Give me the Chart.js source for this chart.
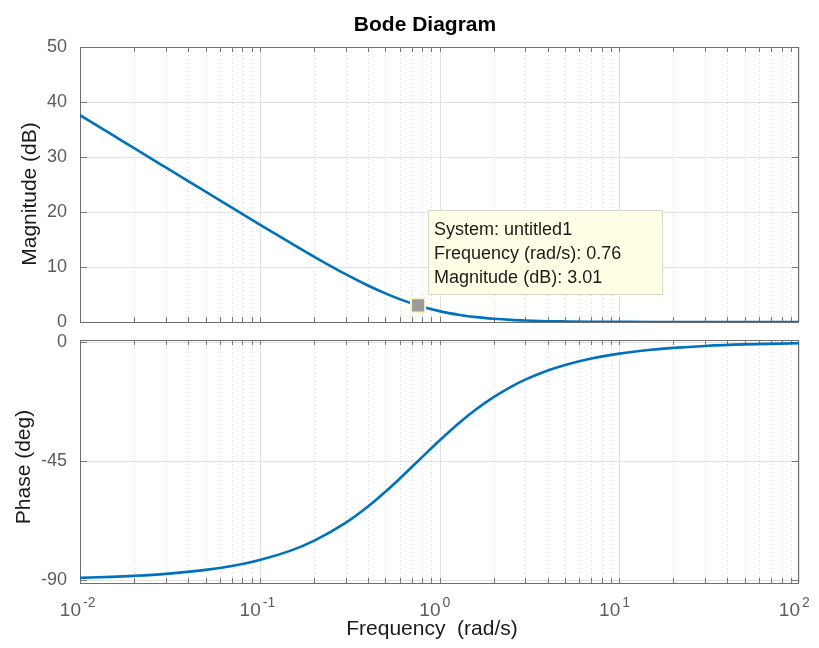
<!DOCTYPE html>
<html>
<head>
<meta charset="utf-8">
<title>Bode Diagram</title>
<script src="https://cdn.jsdelivr.net/npm/chart.js@4.4.1/dist/chart.umd.min.js"></script>
<style>
  html, body { margin: 0; padding: 0; background: #fff; }
  #wrap { position: relative; width: 819px; height: 648px; }
  canvas { position: absolute; left: 0; }
  #magCanvas { top: 0; }
  #phaseCanvas { top: 325px; }
</style>
</head>
<body>
<div id="wrap">
  <canvas id="magCanvas" width="819" height="334"></canvas>
  <canvas id="phaseCanvas" width="819" height="323"></canvas>
</div>
<script>
// values
const freq     = [0.01, 0.015, 0.02, 0.03, 0.05, 0.07, 0.1, 0.15, 0.2, 0.3, 0.4, 0.5, 0.6, 0.76, 1, 1.3, 1.6, 2, 2.5, 3, 4, 5, 7, 10, 15, 20, 30, 50, 100];
const magDb    = [37.6, 34.1, 31.6, 28.1, 23.7, 20.8, 17.7, 14.3, 11.9, 8.7, 6.64, 5.2, 4.16, 3.01, 1.98, 1.28, 0.88, 0.59, 0.38, 0.27, 0.15, 0.1, 0.05, 0.03, 0.01, 0.01, 0, 0, 0];
const phaseDeg = [-89.25, -88.87, -88.49, -87.74, -86.24, -84.74, -82.5, -78.84, -75.26, -68.46, -62.24, -56.66, -51.71, -45, -37.23, -30.31, -25.41, -20.81, -16.91, -14.22, -10.76, -8.64, -6.2, -4.35, -2.9, -2.18, -1.45, -0.87, -0.44];

const tipFreq = 0.76;
const tipMag = 3.01;
const tipLines = ['System: untitled1', 'Frequency (rad/s): 0.76', 'Magnitude (dB): 3.01'];

const xDecades = [0.01, 0.1, 1, 10, 100];
const xExponents = ['-2', '-1', '0', '1', '2'];
const magTicks = [0, 10, 20, 30, 40, 50];
const phaseTicks = [-90, -45, 0];

const FONT = "'Liberation Sans', Arial, Helvetica, sans-serif";
const BLUE = '#0072BD';

const toPts = (ys) => freq.map((f, i) => ({ x: f, y: ys[i] }));

// grid, box and inner tick marks, MATLAB style
const framePlugin = {
  id: 'frame',
  beforeDatasetsDraw(chart) {
    const { ctx, chartArea: a, scales: { x, y } } = chart;
    ctx.save();
    ctx.lineWidth = 1;

    // minor dotted verticals
    ctx.strokeStyle = '#d4d4d4';
    ctx.setLineDash([1, 3]);
    xDecades.slice(0, -1).forEach(d => {
      for (let m = 2; m <= 9; m++) {
        const px = Math.round(x.getPixelForValue(d * m)) + 0.5;
        ctx.beginPath(); ctx.moveTo(px, a.top); ctx.lineTo(px, a.bottom); ctx.stroke();
      }
    });

    // major grid
    ctx.setLineDash([]);
    ctx.strokeStyle = '#e1e1e1';
    xDecades.forEach(d => {
      const px = Math.round(x.getPixelForValue(d)) + 0.5;
      ctx.beginPath(); ctx.moveTo(px, a.top); ctx.lineTo(px, a.bottom); ctx.stroke();
    });
    y.ticks.forEach(t => {
      const py = Math.round(y.getPixelForValue(t.value)) + 0.5;
      ctx.beginPath(); ctx.moveTo(a.left, py); ctx.lineTo(a.right, py); ctx.stroke();
    });

    // inner tick marks
    ctx.strokeStyle = '#777';
    xDecades.slice(0, -1).forEach(d => {
      for (let m = 1; m <= 9; m++) {
        const px = Math.round(x.getPixelForValue(d * m)) + 0.5;
        ctx.beginPath();
        ctx.moveTo(px, a.top); ctx.lineTo(px, a.top + 5);
        ctx.moveTo(px, a.bottom); ctx.lineTo(px, a.bottom - 5);
        ctx.stroke();
      }
    });
    y.ticks.forEach(t => {
      const py = Math.round(y.getPixelForValue(t.value)) + 0.5;
      ctx.beginPath();
      ctx.moveTo(a.left, py); ctx.lineTo(a.left + 7, py);
      ctx.moveTo(a.right, py); ctx.lineTo(a.right - 7, py);
      ctx.stroke();
    });

    // box
    ctx.strokeStyle = '#6e6e6e';
    ctx.strokeRect(a.left + 0.5, a.top + 0.5, a.right - a.left - 1, a.bottom - a.top);
    ctx.restore();
  }
};

const magTextPlugin = {
  id: 'magText',
  afterDraw(chart) {
    const { ctx } = chart;
    ctx.save();
    ctx.fillStyle = '#000';
    ctx.font = 'bold 21px ' + FONT;
    ctx.textAlign = 'center';
    ctx.textBaseline = 'alphabetic';
    ctx.fillText('Bode Diagram', 425, 31);

    ctx.fillStyle = '#1a1a1a';
    ctx.font = '21px ' + FONT;
    ctx.translate(36, 194);
    ctx.rotate(-Math.PI / 2);
    ctx.fillText('Magnitude (dB)', 0, 0);
    ctx.restore();

    // data tip
    const el = chart.getDatasetMeta(0).data[0];
    if (!el) return;
    const bx = el.x + 10, by = el.y - 95.5;
    ctx.save();
    ctx.fillStyle = '#ffffe6';
    ctx.strokeStyle = '#d8d8c8';
    ctx.lineWidth = 1;
    ctx.fillRect(bx, by, 235, 85);
    ctx.strokeRect(bx + 0.5, by + 0.5, 234, 84);
    ctx.fillStyle = '#1a1a1a';
    ctx.font = '18px ' + FONT;
    ctx.textAlign = 'left';
    ctx.textBaseline = 'alphabetic';
    tipLines.forEach((s, i) => ctx.fillText(s, bx + 6, el.y - 70.5 + i * 24.2));
    ctx.restore();
  }
};

const phaseTextPlugin = {
  id: 'phaseText',
  afterDraw(chart) {
    const { ctx, scales: { x } } = chart;
    ctx.save();
    ctx.fillStyle = '#5c5c5c';
    ctx.textBaseline = 'alphabetic';
    xDecades.forEach((d, i) => {
      const px = x.getPixelForValue(d);
      ctx.font = '19px ' + FONT;
      ctx.textAlign = 'right';
      ctx.fillText('10', px + 1, 291);
      ctx.font = '14px ' + FONT;
      ctx.textAlign = 'left';
      ctx.fillText(xExponents[i], px + 3, 282);
    });

    ctx.fillStyle = '#1a1a1a';
    ctx.font = '21px ' + FONT;
    ctx.textAlign = 'center';
    ctx.fillText('Frequency  (rad/s)', 432, 310);

    ctx.translate(30, 467 - 325);
    ctx.rotate(-Math.PI / 2);
    ctx.fillText('Phase (deg)', 0, 0);
    ctx.restore();
  }
};

function xScale(height) {
  return {
    type: 'logarithmic',
    min: 0.01,
    max: 100,
    grid: { display: false },
    border: { display: false },
    ticks: { display: false },
    afterFit: s => { s.height = height; s.paddingLeft = 0; s.paddingRight = 0; }
  };
}

function yScale(min, max, tickVals) {
  return {
    type: 'linear',
    min: min,
    max: max,
    grid: { display: false, drawTicks: false },
    border: { display: false },
    ticks: { color: '#5c5c5c', padding: 13, font: { family: FONT, size: 18 } },
    afterBuildTicks: s => { s.ticks = tickVals.map(v => ({ value: v })); },
    afterFit: s => { s.width = 80; s.paddingTop = 0; s.paddingBottom = 0; }
  };
}

const common = {
  responsive: false,
  animation: false,
  events: [],
  plugins: { legend: { display: false }, tooltip: { enabled: false } }
};

new Chart(document.getElementById('magCanvas'), {
  type: 'line',
  data: {
    datasets: [
      {
        data: [{ x: tipFreq, y: tipMag }],
        order: 0,
        showLine: false,
        pointStyle: 'rect',
        pointRadius: 10,
        backgroundColor: '#9b9b9b',
        borderColor: '#fbf6c8',
        borderWidth: 2
      },
      {
        data: toPts(magDb),
        order: 1,
        borderColor: BLUE,
        borderWidth: 2.6,
        pointRadius: 0,
        cubicInterpolationMode: 'monotone',
        fill: false
      }
    ]
  },
  options: Object.assign({}, common, {
    layout: { padding: { top: 47, right: 20, bottom: 0, left: 0 } },
    scales: { x: xScale(0), y: yScale(0, 50, magTicks) }
  }),
  plugins: [framePlugin, magTextPlugin]
});

new Chart(document.getElementById('phaseCanvas'), {
  type: 'line',
  data: {
    datasets: [{
      data: toPts(phaseDeg),
      borderColor: BLUE,
      borderWidth: 2.6,
      pointRadius: 0,
      cubicInterpolationMode: 'monotone',
      fill: false
    }]
  },
  options: Object.assign({}, common, {
    layout: { padding: { top: 15, right: 20, bottom: 0, left: 0 } },
    scales: { x: xScale(65), y: yScale(-91.2, 0.8, phaseTicks) }
  }),
  plugins: [framePlugin, phaseTextPlugin]
});
</script>
</body>
</html>
